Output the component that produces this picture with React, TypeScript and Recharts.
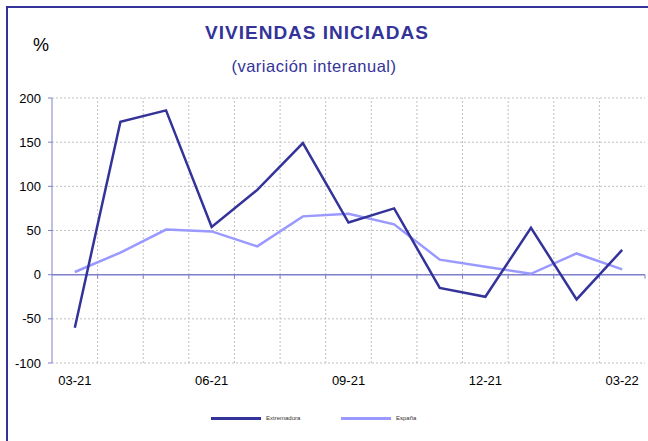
import {
  LineChart,
  Line,
  XAxis,
  YAxis,
  CartesianGrid,
  ReferenceLine,
} from "recharts";

// ================================================================
// Viviendas iniciadas (variación interanual), %
// ================================================================

const months = [
  "03-21", "04-21", "05-21", "06-21", "07-21", "08-21", "09-21",
  "10-21", "11-21", "12-21", "01-22", "02-22", "03-22",
];
const extremadura = [-60, 173, 186, 54, 96, 149, 59, 75, -15, -25, 53, -28, 28];
const espana = [3, 25, 51, 49, 32, 66, 69, 57, 17, 9, 1, 24, 6];
const yTicks = [-100, -50, 0, 50, 100, 150, 200];
const xTicks = [0, 3, 6, 9, 12];

const data = months.map((m, i) => ({
  x: i,
  month: m,
  extremadura: extremadura[i],
  espana: espana[i],
}));

// category boundaries for the vertical grid
const boundaries = months.slice(1).map((_, i) => i + 0.5);

const NAVY = "#333399";
const LILAC = "#9999ff";
const AXIS = "#8080cc";
const FONT = "'Liberation Sans', Arial, sans-serif";

function LegendBox() {
  const item = (color: string, label: string, left: number) => (
    <div
      style={{
        position: "absolute",
        left,
        top: 415,
        display: "flex",
        alignItems: "center",
      }}
    >
      <div style={{ width: 50, height: 3, background: color }} />
      <span style={{ fontSize: 6, marginLeft: 5, color: "#333", fontFamily: FONT }}>
        {label}
      </span>
    </div>
  );
  return (
    <>
      {item(NAVY, "Extremadura", 211)}
      {item(LILAC, "España", 341)}
    </>
  );
}

export default function App() {
  return (
    <div
      style={{
        position: "absolute",
        left: 0,
        top: 0,
        width: 648,
        height: 441,
        background: "#fff",
        fontFamily: FONT,
        overflow: "hidden",
      }}
    >
      {/* frame, left and top edges only visible */}
      <div
        style={{
          position: "absolute",
          left: 6,
          top: 6,
          width: 700,
          height: 500,
          borderLeft: `2px solid ${NAVY}`,
          borderTop: `2px solid ${NAVY}`,
        }}
      />
      <div
        style={{
          position: "absolute",
          left: 0,
          width: 634,
          top: 22,
          textAlign: "center",
          fontSize: 19,
          letterSpacing: 1,
          fontWeight: 700,
          color: NAVY,
        }}
      >
        VIVIENDAS INICIADAS
      </div>
      <div
        style={{
          position: "absolute",
          left: 0,
          width: 628,
          top: 57,
          textAlign: "center",
          fontSize: 16.5,
          letterSpacing: 0.5,
          color: NAVY,
        }}
      >
        (variación interanual)
      </div>
      <div style={{ position: "absolute", left: 33, top: 35, fontSize: 18, color: "#000" }}>
        %
      </div>

      <div style={{ position: "absolute", left: 0, top: 0 }}>
        <LineChart
          width={648}
          height={441}
          data={data}
          margin={{ top: 98, right: 3, left: 7, bottom: 48 }}
        >
          <CartesianGrid
            vertical={false}
            stroke="#c0c0c0"
            strokeDasharray="2 2"
          />
          {boundaries.map((b) => (
            <ReferenceLine
              key={b}
              x={b}
              stroke="#c0c0c0"
              strokeDasharray="2 2"
            />
          ))}
          <XAxis
            dataKey="x"
            type="number"
            domain={[-0.5, 12.5]}
            ticks={xTicks}
            tickFormatter={(v: number) => months[v]}
            axisLine={false}
            tickLine={false}
            height={30}
            tick={{ fontSize: 13, fill: "#000", fontFamily: FONT }}
            tickMargin={7}
          />
          <YAxis
            domain={[-100, 200]}
            ticks={yTicks}
            width={45}
            stroke={AXIS}
            tickSize={4}
            tick={{ fontSize: 13, fill: "#000", fontFamily: FONT }}
            tickMargin={7}
          />
          <ReferenceLine y={0} stroke={AXIS} strokeWidth={1.5} />
          {boundaries.concat([12.5]).map((b) => (
            <ReferenceLine
              key={`t${b}`}
              segment={[
                { x: b, y: 0 },
                { x: b, y: -4.5 },
              ]}
              stroke={AXIS}
            />
          ))}
          <Line
            dataKey="espana"
            stroke={LILAC}
            strokeWidth={2.5}
            dot={false}
            isAnimationActive={false}
          />
          <Line
            dataKey="extremadura"
            stroke={NAVY}
            strokeWidth={2.5}
            dot={false}
            isAnimationActive={false}
          />
        </LineChart>
      </div>
      <LegendBox />
    </div>
  );
}
